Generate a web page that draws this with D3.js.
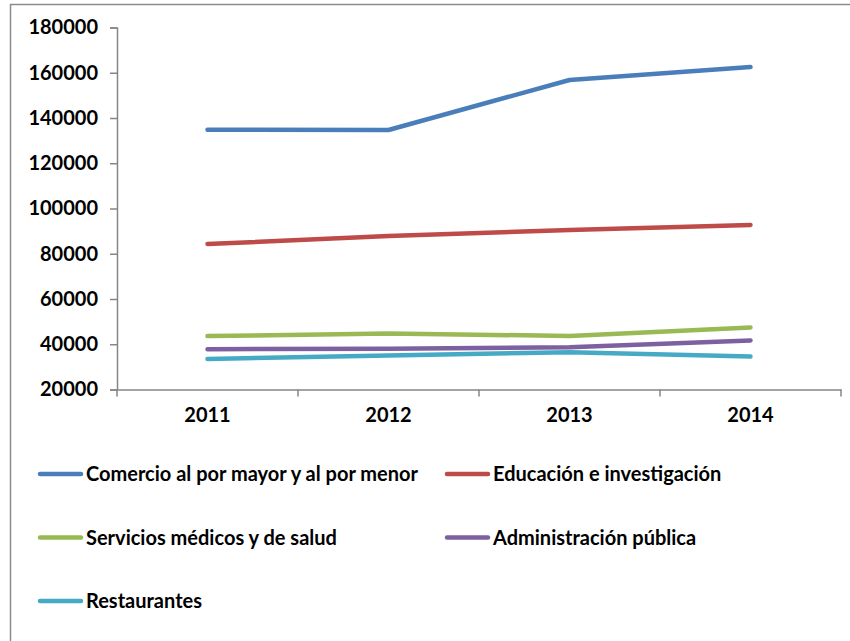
<!DOCTYPE html>
<html>
<head>
<meta charset="utf-8">
<script src="https://cdn.jsdelivr.net/npm/d3@7"></script>
<style>
  body { margin: 0; background: #fff; }
  text { font-family: Lato, "Open Sans", sans-serif; font-weight: bold; fill: #000; }
</style>
</head>
<body>
<svg id="chart" width="850" height="641"></svg>
<script>
var years = ["2011", "2012", "2013", "2014"];
var seriesNames = [
  "Comercio al por mayor y al por menor",
  "Educación e investigación",
  "Servicios médicos y de salud",
  "Administración pública",
  "Restaurantes"
];
var comercio = [134800, 134700, 156800, 162500];
var educacion = [84300, 87800, 90500, 92700];
var servicios = [43600, 44700, 43700, 47400];
var administracion = [37800, 38000, 38700, 41700];
var restaurantes = [33500, 35000, 36500, 34600];
var yTicks = [20000, 40000, 60000, 80000, 100000, 120000, 140000, 160000, 180000];
var colors = ["#4A7EBB", "#BE4B48", "#98B954", "#7D60A0", "#46AAC5"];

var allSeries = [comercio, educacion, servicios, administracion, restaurantes];

var svg = d3.select("#chart");

// outer chart border (only top / left visible)
svg.append("rect")
  .attr("x", 10.5).attr("y", 4.5)
  .attr("width", 900).attr("height", 700)
  .style("fill", "none")
  .style("stroke", "#8c8c8c")
  .style("stroke-width", "1.5px");

var plotLeft = 117, plotRight = 841, plotTop = 27.5, plotBottom = 389.5;

var x = d3.scaleBand().domain(years).range([plotLeft, plotRight]);
var y = d3.scaleLinear().domain([20000, 180000]).range([plotBottom, plotTop]);

// y axis
var yAxis = svg.append("g")
  .attr("transform", "translate(" + plotLeft + ",0)")
  .call(d3.axisLeft(y).tickValues(yTicks).tickSize(7).tickPadding(12).tickFormat(d3.format("d")));
yAxis.selectAll("text").style("font-size", "20px");

// x axis
var xAxis = svg.append("g")
  .attr("transform", "translate(0," + plotBottom + ")")
  .call(d3.axisBottom(x).tickSize(0).tickPadding(18));
xAxis.selectAll("text").style("font-size", "20px");
// tick marks on category boundaries
xAxis.selectAll(".bound")
  .data(years.map(function(d){ return x(d); }).concat([plotRight]))
  .enter().append("line")
  .attr("class", "bound")
  .attr("x1", function(d){ return d; }).attr("x2", function(d){ return d; })
  .attr("y1", 0).attr("y2", 7);

svg.selectAll(".domain, .tick line, .bound").style("stroke", "#868686").style("stroke-width", "1.5px");

var line = d3.line()
  .x(function(d, i){ return x(years[i]) + x.bandwidth() / 2; })
  .y(function(d){ return y(d); });

svg.selectAll(".series")
  .data(allSeries)
  .enter().append("path")
  .attr("class", "series")
  .attr("d", line)
  .style("fill", "none")
  .style("stroke", function(d, i){ return colors[i]; })
  .style("stroke-width", "4.5px")
  .style("stroke-linecap", "round")
  .style("stroke-linejoin", "round");

// legend
var legendPos = [[40, 474], [447, 474], [40, 537.5], [447, 537.5], [40, 601]];
var legend = svg.selectAll(".legend")
  .data(seriesNames)
  .enter().append("g")
  .attr("class", "legend")
  .attr("transform", function(d, i){ return "translate(" + legendPos[i][0] + "," + legendPos[i][1] + ")"; });

legend.append("line")
  .attr("x1", 0).attr("x2", 41)
  .attr("y1", 0).attr("y2", 0)
  .style("stroke", function(d, i){ return colors[i]; })
  .style("stroke-width", "4.5px")
  .style("stroke-linecap", "round");

legend.append("text")
  .attr("x", 46)
  .attr("y", 7)
  .style("font-size", "20px")
  .text(function(d){ return d; });
</script>
</body>
</html>
